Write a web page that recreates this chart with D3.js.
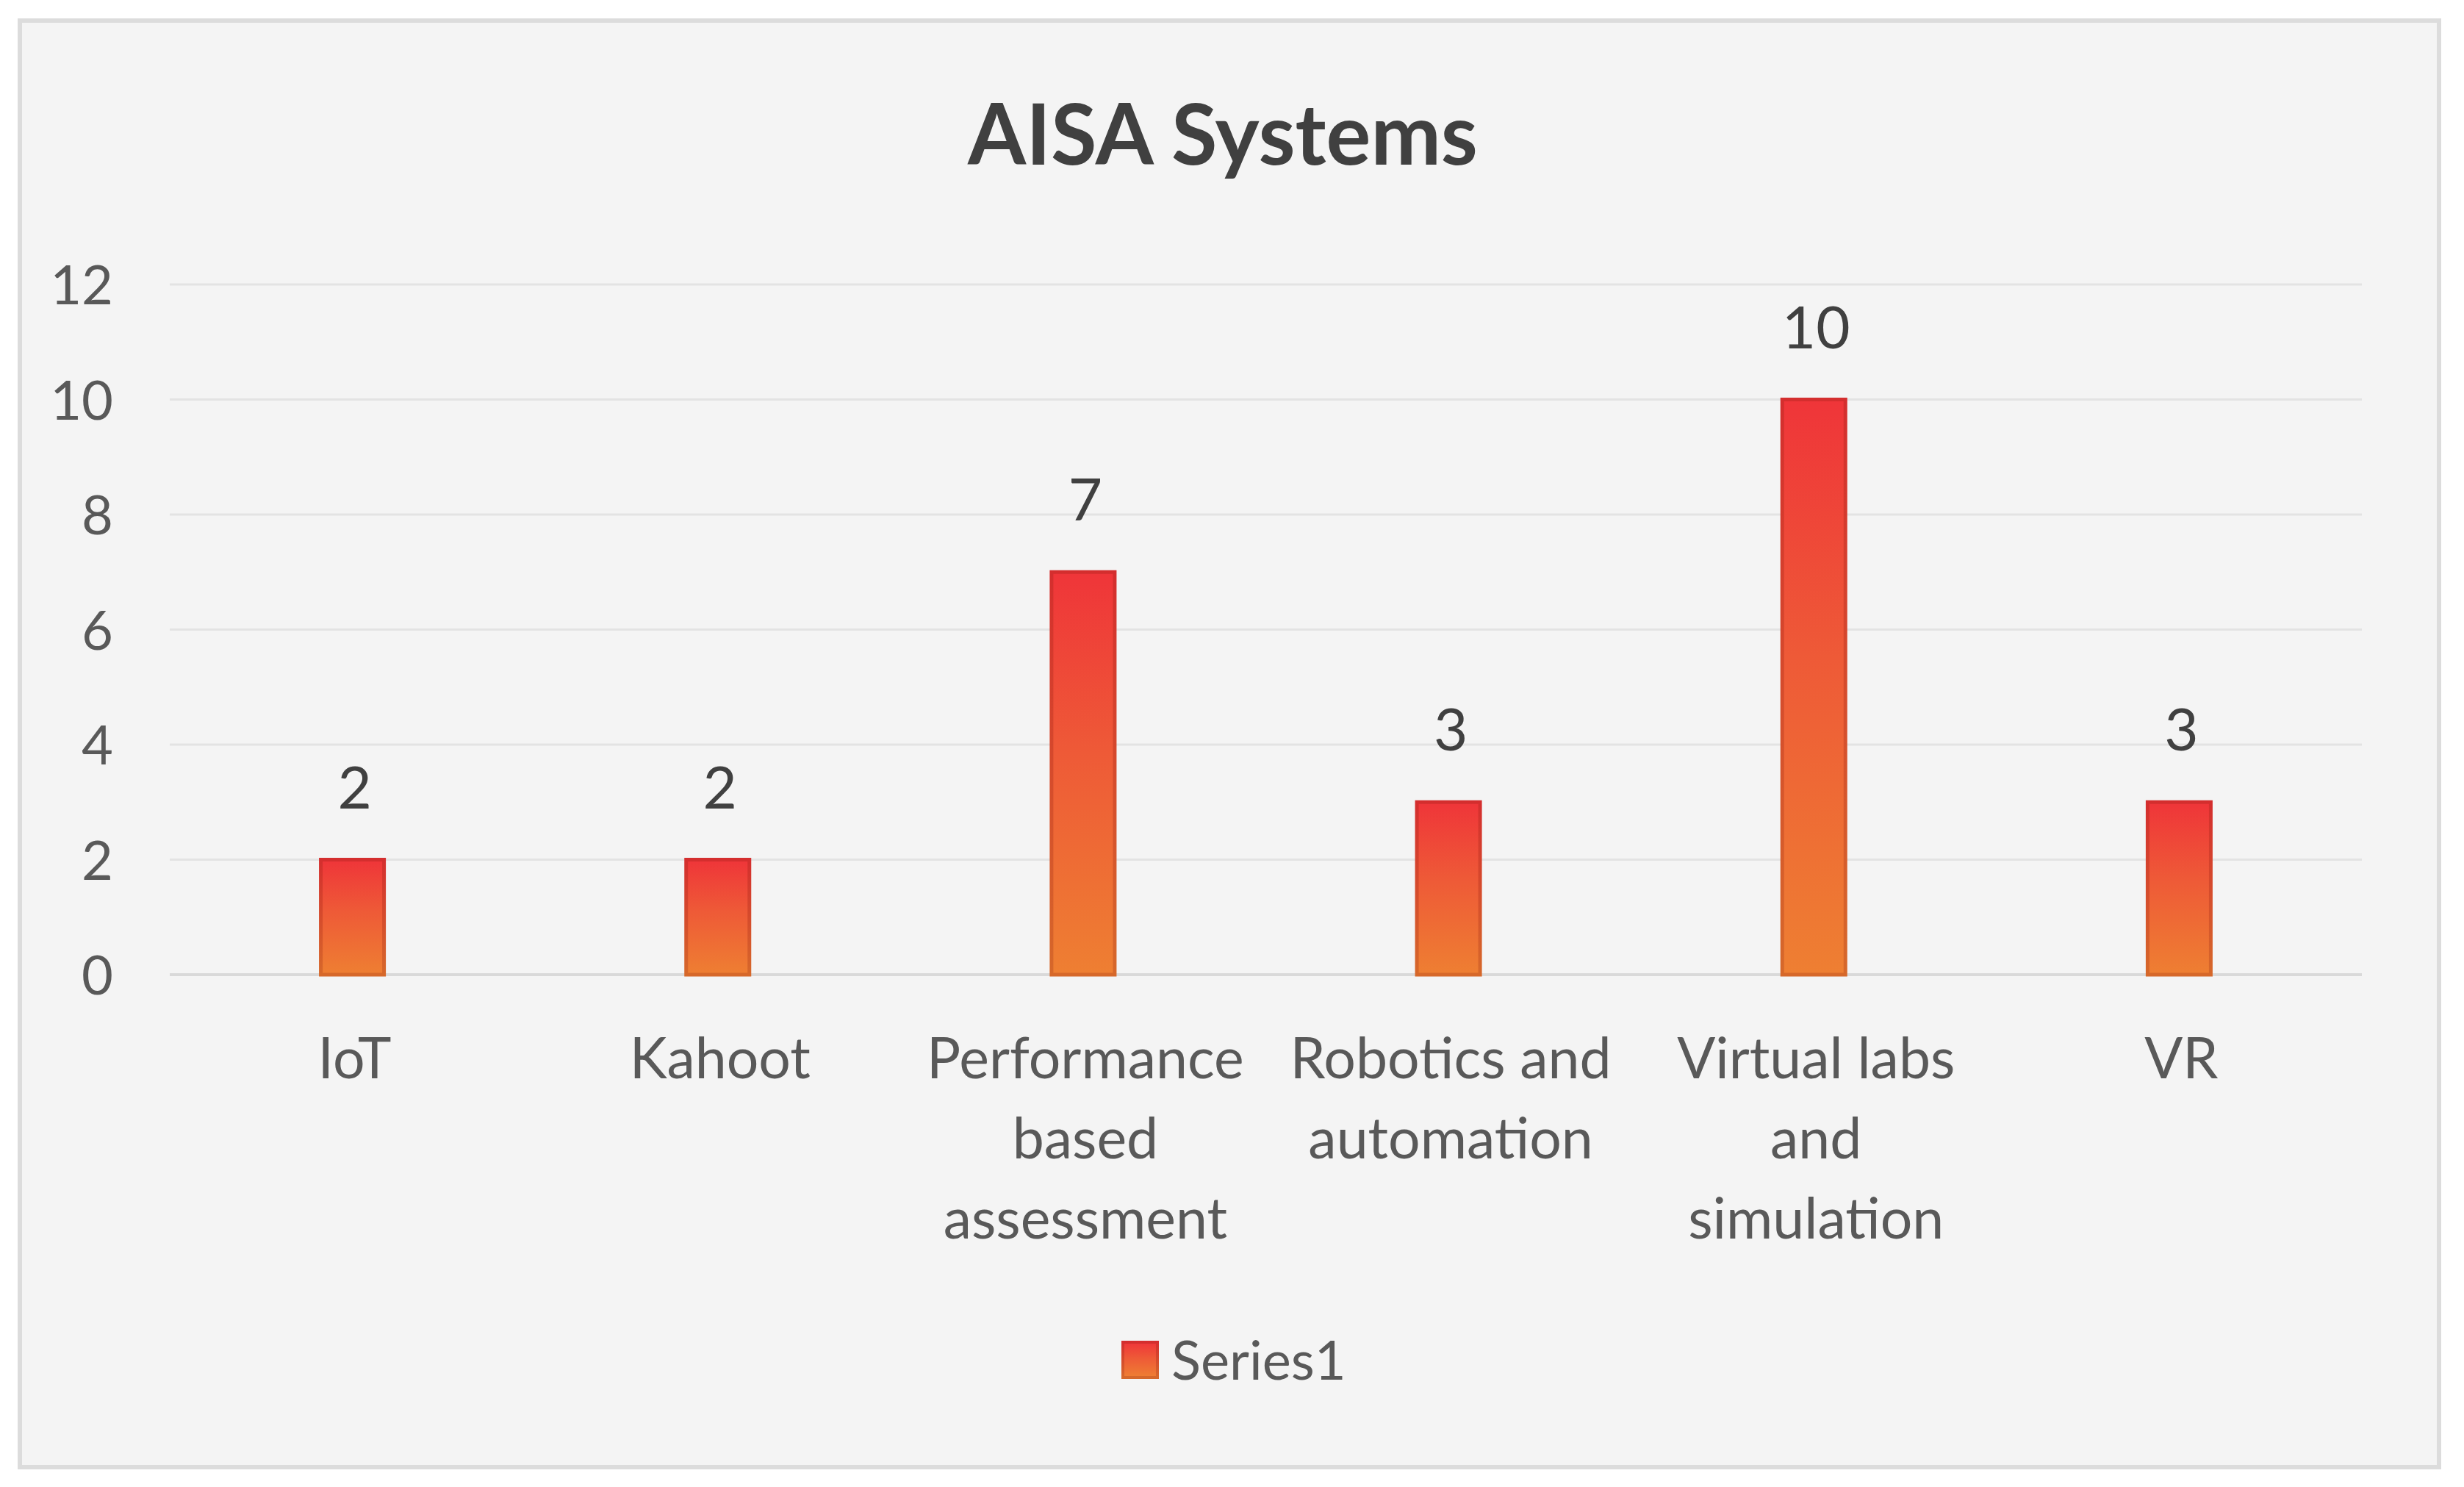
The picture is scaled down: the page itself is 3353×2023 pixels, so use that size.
<!DOCTYPE html>
<html>
<head>
<meta charset="utf-8">
<script src="https://cdn.jsdelivr.net/npm/d3@7"></script>
<style>
  html, body { margin: 0; padding: 0; background: #ffffff; }
  svg { display: block; }
</style>
</head>
<body>
<svg id="chart" width="3353" height="2023"></svg>
<script>
const title = "AISA Systems";
const categories = ["IoT", "Kahoot", "Performance based assessment", "Robotics and automation", "Virtual labs and simulation", "VR"];
const categoryLines = [["IoT"], ["Kahoot"], ["Performance", "based", "assessment"], ["Robotics and", "automation"], ["Virtual labs", "and", "simulation"], ["VR"]];
const values = [2, 2, 7, 3, 10, 3];
const seriesName = "Series1";
const yTicks = [0, 2, 4, 6, 8, 10, 12];

const W = 3353, H = 2023;
const font = "Lato, 'Open Sans', sans-serif";
const svg = d3.select("#chart");

const defs = svg.append("defs");
const fillGrad = defs.append("linearGradient").attr("id", "barFill")
  .attr("x1", 0).attr("y1", 0).attr("x2", 0).attr("y2", 1);
fillGrad.append("stop").attr("offset", "0%").attr("stop-color", "#ef3539");
fillGrad.append("stop").attr("offset", "45%").attr("stop-color", "#ee5a37");
fillGrad.append("stop").attr("offset", "100%").attr("stop-color", "#ee7f32");
const strokeGrad = defs.append("linearGradient").attr("id", "barStroke")
  .attr("x1", 0).attr("y1", 0).attr("x2", 0).attr("y2", 1);
strokeGrad.append("stop").attr("offset", "0%").attr("stop-color", "#d42e2e");
strokeGrad.append("stop").attr("offset", "100%").attr("stop-color", "#d6682a");

// chart area background
svg.append("rect").attr("x", 0).attr("y", 0).attr("width", W).attr("height", H).attr("fill", "#ffffff");
svg.append("rect")
  .attr("x", 27).attr("y", 28).attr("width", 3292).attr("height", 1968)
  .attr("fill", "#f4f4f4").attr("stroke", "#dcdcdc").attr("stroke-width", 6);

const plot = { left: 231, right: 3214, top: 387, bottom: 1326 };

const x = d3.scaleBand().domain(categories).range([plot.left, plot.right]).padding(0);
const y = d3.scaleLinear().domain([0, 12]).range([plot.bottom, plot.top]);
const barW = x.bandwidth() * 0.173;

// gridlines
svg.append("g").selectAll("line").data(yTicks).join("line")
  .attr("x1", plot.left).attr("x2", plot.right)
  .attr("y1", d => y(d)).attr("y2", d => y(d))
  .attr("stroke", d => d === 0 ? "#d9d9d9" : "#e3e3e3")
  .attr("stroke-width", d => d === 0 ? 4 : 3);

// y axis labels
const yAxis = d3.axisLeft(y).tickValues(yTicks).tickSize(0).tickPadding(0);
const yg = svg.append("g").attr("transform", `translate(${plot.left - 77},0)`).call(yAxis);
yg.select(".domain").remove();
yg.selectAll("text")
  .attr("font-family", font).attr("font-size", 74).attr("fill", "#595959")
  .attr("dy", "0.36em");

// bars
svg.append("g").selectAll("rect").data(values).join("rect")
  .attr("x", (d, i) => x(categories[i]) + x.bandwidth() / 2 - barW / 2)
  .attr("y", d => y(d))
  .attr("width", barW)
  .attr("height", d => y(0) - y(d))
  .attr("fill", "url(#barFill)")
  .attr("stroke", "url(#barStroke)")
  .attr("stroke-width", 5);

// data labels
svg.append("g").selectAll("text").data(values).join("text")
  .attr("x", (d, i) => x(categories[i]) + x.bandwidth() / 2 + 3)
  .attr("y", d => y(d) - 70)
  .attr("text-anchor", "middle")
  .attr("font-family", font).attr("font-size", 80).attr("fill", "#404040")
  .text(d => d);

// category labels
const catG = svg.append("g");
categories.forEach((c, i) => {
  const t = catG.append("text")
    .attr("x", x(c) + x.bandwidth() / 2)
    .attr("y", 1467)
    .attr("text-anchor", "middle")
    .attr("font-family", font).attr("font-size", 77).attr("fill", "#595959");
  categoryLines[i].forEach((ln, j) => {
    t.append("tspan").attr("x", x(c) + x.bandwidth() / 2 + 3).attr("dy", j === 0 ? 0 : 109).text(ln);
  });
});

// title
svg.append("text")
  .attr("x", 1664).attr("y", 224)
  .attr("text-anchor", "middle")
  .attr("font-family", font).attr("font-weight", "bold").attr("font-size", 114)
  .attr("fill", "#404040")
  .text(title);

// legend
const lg = svg.append("g");
lg.append("rect").attr("x", 1528).attr("y", 1826).attr("width", 47).attr("height", 48)
  .attr("fill", "url(#barFill)").attr("stroke", "url(#barStroke)").attr("stroke-width", 4);
lg.append("text").attr("x", 1594).attr("y", 1877)
  .attr("font-family", font).attr("font-size", 74).attr("fill", "#595959")
  .text(seriesName);
</script>
</body>
</html>
